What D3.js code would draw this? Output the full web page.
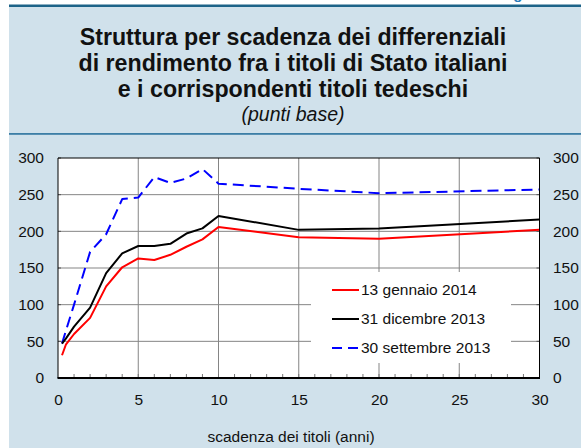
<!DOCTYPE html>
<html>
<head>
<meta charset="utf-8">
<script src="https://cdn.jsdelivr.net/npm/d3@7"></script>
<style>
  html, body { margin: 0; padding: 0; background: #ffffff; }
  svg { display: block; font-family: "Liberation Sans", Arial, Helvetica, sans-serif; }
</style>
</head>
<body>
<svg id="chart" width="581" height="448"></svg>
<script>
// Maturities (years) and yield spreads vs. German Bunds (basis points)
const maturities = [0.25, 0.5, 1, 2, 3, 4, 5, 6, 7, 8, 9, 10, 15, 20, 30];
const jan2014 = [31, 46, 60, 82, 125, 151, 163, 161, 168, 179, 189, 206, 192, 190, 202];
const dec2013 = [47, 54, 70, 96, 143, 170, 180, 180, 183, 197, 204, 221, 202, 204, 216];
const sep2013 = [47, 65, 100, 172, 196, 244, 246, 274, 266, 272, 285, 265, 258, 252, 257];

const seriesNames = ["13 gennaio 2014", "31 dicembre 2013", "30 settembre 2013"];
const yTicks = [0, 50, 100, 150, 200, 250, 300];
const xTicks = [0, 5, 10, 15, 20, 25, 30];
const titleLines = [
  "Struttura per scadenza dei differenziali",
  "di rendimento fra i titoli di Stato italiani",
  "e i corrispondenti titoli tedeschi"
];
const subtitle = "(punti base)";
const xTitle = "scadenza dei titoli (anni)";

const series = [
  { name: seriesNames[0], values: jan2014, color: "#ff0000", dash: null },
  { name: seriesNames[1], values: dec2013, color: "#000000", dash: null },
  { name: seriesNames[2], values: sep2013, color: "#0000ff", dash: "11,6" }
];

const svg = d3.select("#chart");
const W = 581, H = 448;
const panelLeft = 9;
const bg = "#d0e1eb";

// panel background and rules
svg.append("rect").attr("x", panelLeft).attr("y", 7).attr("width", W - panelLeft).attr("height", H - 7).attr("fill", bg);
svg.append("rect").attr("x", panelLeft).attr("y", 4.5).attr("width", W - panelLeft).attr("height", 2.5).attr("fill", "#1d6388");
svg.append("rect").attr("x", panelLeft).attr("y", 133).attr("width", W - panelLeft).attr("height", 1.8).attr("fill", "#3c7ea6");

// figure label at the page top (runs off the top edge)
svg.append("text").attr("x", 500).attr("y", -1).attr("fill", "#2b7bb9")
  .attr("font-size", 15).attr("font-weight", "bold").text("Figura");

// title block
const cx = 293;
svg.append("g").selectAll("text").data(titleLines).join("text")
  .attr("x", cx).attr("y", (d, i) => 45 + i * 26)
  .attr("text-anchor", "middle").attr("font-size", 23.2).attr("font-weight", "bold")
  .attr("fill", "#111").text(d => d);
svg.append("text").attr("x", cx).attr("y", 121).attr("text-anchor", "middle")
  .attr("font-size", 19.5).attr("font-style", "italic").attr("fill", "#111").text(subtitle);

// plot area
const pLeft = 58, pRight = 539.5, pTop = 158, pBottom = 378;
const x = d3.scaleLinear().domain([0, 30]).range([pLeft, pRight]);
const y = d3.scaleLinear().domain([0, 300]).range([pBottom, pTop]);

svg.append("rect").attr("x", pLeft).attr("y", pTop).attr("width", pRight - pLeft).attr("height", pBottom - pTop).attr("fill", "#ffffff");

// gridlines
const grid = svg.append("g").attr("stroke", "#858585").attr("stroke-width", 1);
grid.selectAll("line.h").data(yTicks.filter(v => v > 0 && v < 300)).join("line").attr("class", "h")
  .attr("x1", pLeft).attr("x2", pRight).attr("y1", d => y(d)).attr("y2", d => y(d));
grid.selectAll("line.v").data(xTicks.filter(v => v > 0 && v < 30)).join("line").attr("class", "v")
  .attr("x1", d => x(d)).attr("x2", d => x(d)).attr("y1", pTop).attr("y2", pBottom);

// minor ticks along the bottom axis (every year)
svg.append("g").attr("stroke", "#777").attr("stroke-width", 1)
  .selectAll("line").data(d3.range(1, 30)).join("line")
  .attr("x1", d => x(d)).attr("x2", d => x(d)).attr("y1", pBottom).attr("y2", pBottom - 4);

// inward ticks on left and right axes
const yt = svg.append("g").attr("stroke", "#555").attr("stroke-width", 1);
yt.selectAll("line.l").data(yTicks).join("line").attr("class", "l")
  .attr("x1", pLeft).attr("x2", pLeft + 3).attr("y1", d => y(d)).attr("y2", d => y(d));
yt.selectAll("line.r").data(yTicks).join("line").attr("class", "r")
  .attr("x1", pRight - 3).attr("x2", pRight).attr("y1", d => y(d)).attr("y2", d => y(d));

// legend box (white, hides grid beneath)
const legX = 311, legY = 272;
svg.append("rect").attr("x", legX).attr("y", legY).attr("width", 200).attr("height", 91).attr("fill", "#ffffff");

// series lines
const line = d3.line().x((d, i) => x(maturities[i])).y(d => y(d));
svg.append("g").selectAll("path").data(series.slice().reverse()).join("path")
  .attr("d", d => line(d.values))
  .attr("fill", "none").attr("stroke", d => d.color).attr("stroke-width", 2)
  .attr("stroke-linejoin", "round")
  .attr("stroke-dasharray", d => d.dash);

// frame
svg.append("path").attr("d", `M${pLeft},${pBottom}V${pTop}H${pRight}V${pBottom}`)
  .attr("fill", "none").attr("stroke", "#000").attr("stroke-width", 1);
svg.append("line").attr("x1", pLeft - 0.5).attr("x2", pRight + 0.5).attr("y1", pBottom).attr("y2", pBottom)
  .attr("stroke", "#000").attr("stroke-width", 2);

// axis labels
const fs = 15.5;
const axL = d3.axisLeft(y).tickValues(yTicks).tickSize(0).tickPadding(0);
const gL = svg.append("g").attr("transform", `translate(44,0)`).call(axL);
const axR = d3.axisRight(y).tickValues(yTicks).tickSize(0).tickPadding(0);
const gR = svg.append("g").attr("transform", `translate(553,0)`).call(axR);
const axB = d3.axisBottom(x).tickValues(xTicks).tickSize(0).tickPadding(0);
const gB = svg.append("g").attr("transform", `translate(0,394)`).call(axB);
[gL, gR, gB].forEach(g => {
  g.select(".domain").remove();
  g.selectAll("text").attr("font-size", fs).attr("fill", "#111")
    .attr("font-family", "Liberation Sans, Arial, sans-serif");
});

svg.append("text").attr("x", 291).attr("y", 442).attr("text-anchor", "middle")
  .attr("font-size", fs).attr("fill", "#111").text(xTitle);

// legend entries
const leg = svg.append("g").selectAll("g").data(series).join("g")
  .attr("transform", (d, i) => `translate(332,${290 + i * 29})`);
leg.append("line").attr("x1", 0).attr("x2", 27).attr("y1", 0).attr("y2", 0)
  .attr("stroke", d => d.color).attr("stroke-width", 2)
  .attr("stroke-dasharray", d => d.dash ? "10,6" : null);
leg.append("text").attr("x", 29).attr("y", 0).attr("dy", "0.35em")
  .attr("font-size", fs).attr("fill", "#111").text(d => d.name);
</script>
</body>
</html>
